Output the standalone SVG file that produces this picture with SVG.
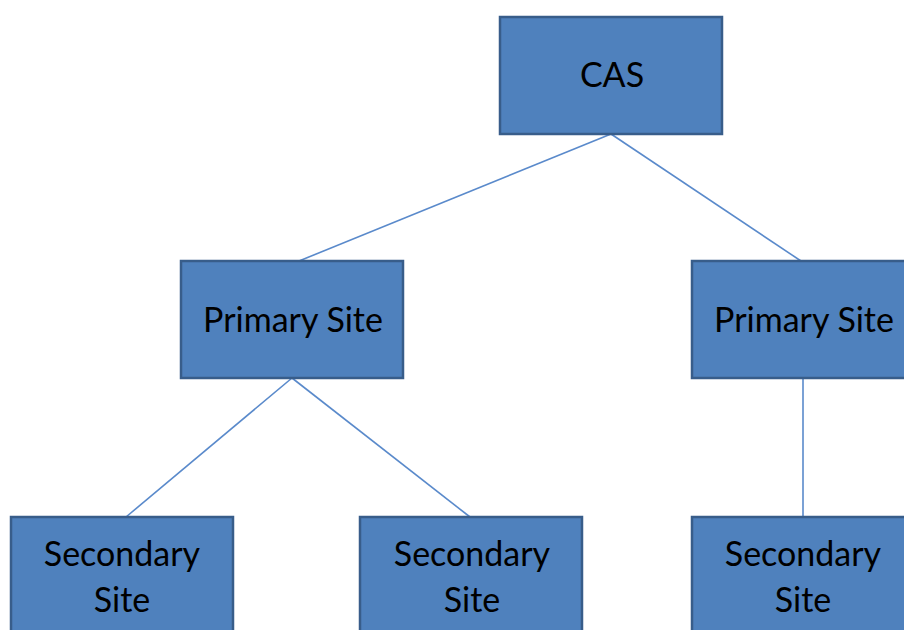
<svg xmlns="http://www.w3.org/2000/svg" width="904" height="630" viewBox="0 0 904 630">
<style>
.box{fill:#4F81BD;stroke:#385D8A;stroke-width:2.5}
.lbl{font-family:Lato,"Open Sans","Liberation Sans",sans-serif;font-size:34px;fill:#000;text-anchor:middle}
.conn line{stroke:#5A8ACB;stroke-width:1.6}
</style>
<rect width="904" height="630" fill="#fff"/>
<g id="connectors" class="conn">
<line x1="611" y1="134" x2="299" y2="261"/>
<line x1="611" y1="134" x2="801" y2="261"/>
<line x1="292" y1="378" x2="126" y2="517"/>
<line x1="292" y1="378" x2="470" y2="517"/>
<line x1="803" y1="378" x2="803" y2="517"/>
</g>
<g id="cas"><rect class="box" x="500" y="17" width="222" height="117"/><text class="lbl" x="612" y="87">CAS</text></g>
<g id="primary1"><rect class="box" x="181" y="261" width="222" height="117"/><text class="lbl" x="293" y="332">Primary Site</text></g>
<g id="primary2"><rect class="box" x="692" y="261" width="222" height="117"/><text class="lbl" x="804" y="332">Primary Site</text></g>
<g id="secondary1"><rect class="box" x="11" y="517" width="222" height="130"/><text class="lbl" x="122" y="566">Secondary</text><text class="lbl" x="122" y="612">Site</text></g>
<g id="secondary2"><rect class="box" x="360" y="517" width="222" height="130"/><text class="lbl" x="472" y="566">Secondary</text><text class="lbl" x="472" y="612">Site</text></g>
<g id="secondary3"><rect class="box" x="692" y="517" width="222" height="130"/><text class="lbl" x="803" y="566">Secondary</text><text class="lbl" x="803" y="612">Site</text></g>
</svg>
